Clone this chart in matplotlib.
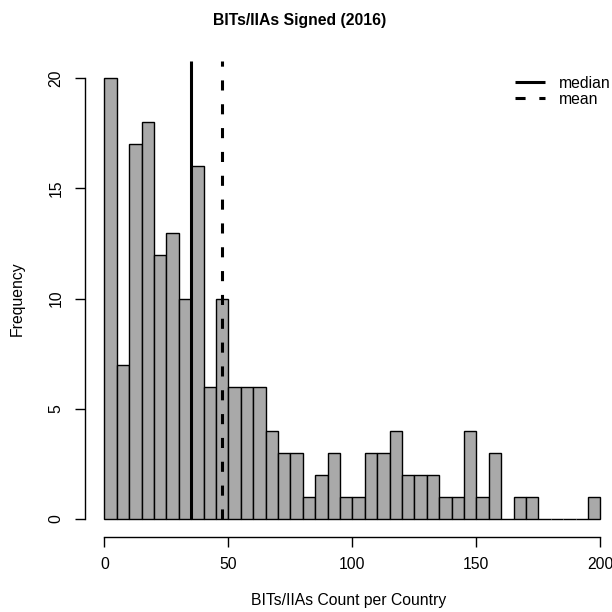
import matplotlib
matplotlib.use("Agg")
import matplotlib.pyplot as plt
import numpy as np

# histogram of treaties signed per country, 5-wide bins from 0 to 200
bin_edges = np.arange(0, 205, 5)
counts = [20, 7, 17, 18, 12, 13, 10, 16, 6, 10,
          6, 6, 6, 4, 3, 3, 1, 2, 3, 1,
          1, 3, 3, 4, 2, 2, 2, 1, 1, 4,
          1, 3, 0, 1, 1, 0, 0, 0, 0, 1]
median_val = 35
mean_val = 47.6

plt.rcParams['font.family'] = ['Liberation Sans', 'DejaVu Sans']
fs = 11.3

fig = plt.figure(figsize=(6.12, 6.12), dpi=100)
ax = fig.add_axes([84.5/612, 1-536.6/612, (612-84.5)/612, (536.6-60.7)/612])

ax.hist(bin_edges[:-1], bins=bin_edges, weights=counts,
        color='#A9A9A9', edgecolor='black', linewidth=1.0)

ax.vlines(median_val, 0, 20.8, colors='black', linewidth=2.2, label='median')
ax.vlines(mean_val, 0, 20.8, colors='black', linewidth=2.2,
          linestyles=(0, (3.3, 4.5)), label='mean')

ax.set_xlim(-8, 204.7)
ax.set_ylim(-0.8, 20.8)

for s in ['top', 'right']:
    ax.spines[s].set_visible(False)
ax.spines['bottom'].set_bounds(0, 200)
ax.spines['left'].set_bounds(0, 20)
ax.spines['bottom'].set_linewidth(1.0)
ax.spines['left'].set_linewidth(1.0)

ax.set_xticks([0, 50, 100, 150, 200])
ax.set_yticks([0, 5, 10, 15, 20])
ax.tick_params(axis='both', length=7, width=1.0, labelsize=fs, pad=8)
for lbl in ax.get_yticklabels():
    lbl.set_rotation(90)
    lbl.set_va('center')

ax.set_xlabel('BITs/IIAs Count per Country', fontsize=fs, labelpad=15)
ax.set_ylabel('Frequency', fontsize=fs, labelpad=17)
fig.text(300/612, 1-20/612, 'BITs/IIAs Signed (2016)', ha='center',
         va='center', fontsize=fs, fontweight='bold')

ax.legend(loc='upper right', bbox_to_anchor=(1.025, 0.998), frameon=False,
          fontsize=fs, handlelength=1.9, labelspacing=0.05, handletextpad=0.9)

fig.savefig('out.png', dpi=100)
